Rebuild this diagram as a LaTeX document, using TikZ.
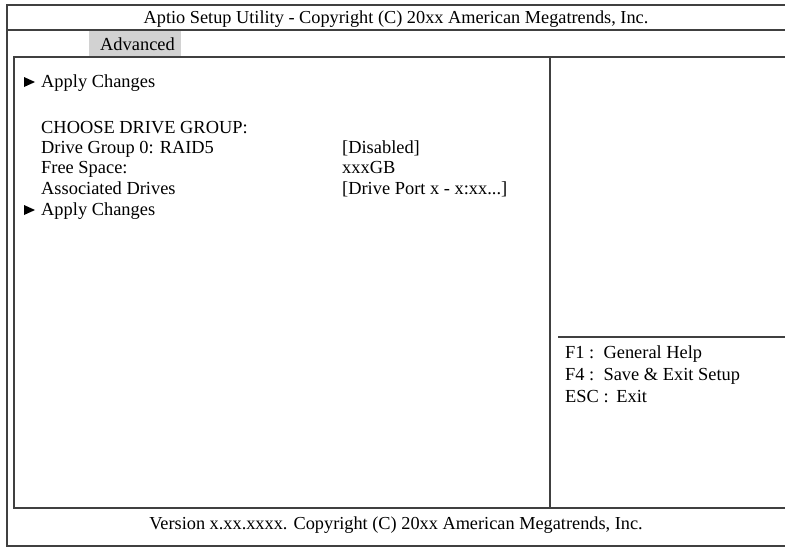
\documentclass[tikz,border=0pt]{standalone}
\usepackage{fontspec}
\setmainfont{Liberation Serif}
\usepackage{tikz}

\tikzset{
  frame/.style={line width=1.3pt, draw=black!75},
  txt/.style={anchor=base west, inner sep=0pt, font=\fontsize{18.4}{20}\selectfont},
  ctxt/.style={anchor=base, inner sep=0pt, font=\fontsize{18.3}{20}\selectfont},
}

\begin{document}
\begin{tikzpicture}[x=1pt, y=-1pt]
        \useasboundingbox (0,0) rectangle (785,547);
        \fill [white] (0,0) rectangle (785,547);
        \draw [frame] (790,5) -- (7,5) -- (7,546) -- (790,546);        %outer
        \draw [frame] (7,30) -- (790,30);                               %title line
        \fill [gray!35] (89,31) rectangle (181,56);                     %tab
        \draw [frame] (790,57) -- (14,57) -- (14,508) -- (790,508);     %inner
        \draw [frame] (550,57) -- (550,508);                            %divider
        \draw [frame] (558,337) -- (790,337);                           %help line
        \node [ctxt] (title)  at (396,23)  {Aptio Setup Utility - Copyright (C) 20xx American Megatrends, Inc.};
        \node [txt]  (tab)    at (100,50)  {Advanced};
        \fill [black] (24,77) -- (35,82) -- (24,87) -- cycle;          %arrow
        \node [txt]  (apply1) at (41,87)   {Apply Changes};
        \node [txt]  (choose) at (41,133)  {CHOOSE DRIVE GROUP:};
        \node [txt]  (group)  at (41,153)  {Drive Group 0: RAID5};
        \node [txt]  (free)   at (41,173)  {Free Space:};
        \node [txt]  (assoc)  at (41,194)  {Associated Drives};
        \fill [black] (24,205) -- (35,210) -- (24,215) -- cycle;       %arrow
        \node [txt]  (apply2) at (41,215)  {Apply Changes};
        \node [txt]  (groupv) at (342,153) {[Disabled]};
        \node [txt]  (freev)  at (342,173) {xxxGB};
        \node [txt]  (assocv) at (342,194) {[Drive Port x - x:xx...]};
        \node [txt]  (fone)   at (565,358) {F1 :\, General Help};
        \node [txt]  (ffour)  at (565,380) {F4 :\, Save \& Exit Setup};
        \node [txt]  (esc)    at (565,402) {ESC :\, Exit};
        \node [ctxt] (footer) at (396,529) {Version x.xx.xxxx. Copyright (C) 20xx American Megatrends, Inc.};
      \end{tikzpicture}
\end{document}
